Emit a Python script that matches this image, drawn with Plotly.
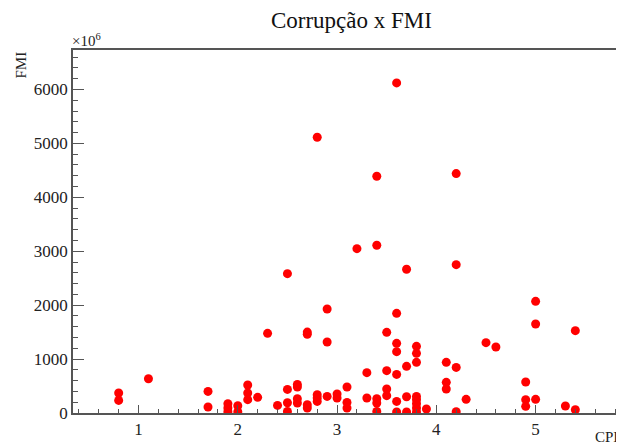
import plotly.graph_objects as go

# CPI (corruption perception index) values
cpi = [0.8, 0.8, 1.1, 1.7, 1.7, 1.9, 1.9, 1.9, 2.0, 2.0,
       2.1, 2.1, 2.1, 2.2, 2.3, 2.4, 2.5, 2.5, 2.5, 2.5,
       2.6, 2.6, 2.6, 2.6, 2.7, 2.7, 2.7, 2.7, 2.8, 2.8,
       2.8, 2.8, 2.9, 2.9, 2.9, 3.0, 3.0, 3.1, 3.1, 3.1,
       3.2, 3.3, 3.3, 3.4, 3.4, 3.4, 3.4, 3.4, 3.5, 3.5,
       3.5, 3.5, 3.6, 3.6, 3.6, 3.6, 3.6, 3.6, 3.6, 3.7,
       3.7, 3.7, 3.7, 3.8, 3.8, 3.8, 3.8, 3.8, 3.8, 3.8,
       3.8, 3.9, 4.1, 4.1, 4.1, 4.2, 4.2, 4.2, 4.2, 4.3,
       4.5, 4.6, 4.9, 4.9, 4.9, 5.0, 5.0, 5.0, 5.3, 5.4,
       5.4]
# FMI values (x 10^6)
fmi = [371, 234, 636, 401, 111, 172, 95, 25, 135, 25,
       519, 371, 247, 290, 1477, 141, 2584, 438, 191, 30,
       530, 482, 265, 185, 1500, 1460, 154, 93, 5113, 340,
       278, 215, 1929, 1317, 308, 352, 278, 482, 197, 93,
       3048, 748, 278, 4390, 3110, 265, 185, 30, 1496, 785,
       445, 321, 6122, 1848, 1292, 1137, 716, 215, 20, 2665,
       865, 302, 20, 1236, 1106, 939, 308, 247, 172, 93,
       19, 74, 939, 568, 445, 4440, 2751, 846, 24, 253,
       1304, 1224, 575, 247, 123, 2071, 1651, 253, 130, 1527,
       61]

title_text = "Corrupção x FMI"
x_title = "CPI"
y_title = "FMI"
exponent_label = "×10<sup>6</sup>"

FONT = "Liberation Serif, Times New Roman, Times, serif"
AX = "#555555"
TXT = "#222222"

fig = go.Figure()
fig.add_trace(go.Scatter(
    x=cpi, y=fmi, mode="markers",
    marker=dict(color="#ff0000", size=9, line=dict(width=0)),
    showlegend=False,
))

fig.update_layout(
    width=616, height=437,
    margin=dict(l=65, r=1, t=42, b=32),
    paper_bgcolor="white", plot_bgcolor="white",
    font=dict(family=FONT, color=TXT, size=16),
    title=dict(text=title_text, x=0.5575, xanchor="center",
               y=0.99, yanchor="top",
               font=dict(family=FONT, size=23, color="#111111")),
)

fig.update_xaxes(
    range=[0.34, 5.86], showgrid=False, zeroline=False,
    showline=True, linecolor=AX, linewidth=1.5, mirror=True,
    ticks="inside", ticklen=8, tickwidth=1.2, tickcolor=AX,
    tick0=0, dtick=1, tickfont=dict(family=FONT, size=17, color=TXT),
    minor=dict(ticks="inside", ticklen=4, tickwidth=1.2, tickcolor=AX, dtick=0.2, tick0=0, showgrid=False),
)
fig.update_yaxes(
    range=[0, 6732], showgrid=False, zeroline=False,
    showline=True, linecolor=AX, linewidth=1.5, mirror=True,
    ticks="inside", ticklen=11, tickwidth=1.2, tickcolor=AX,
    tick0=0, dtick=1000, tickfont=dict(family=FONT, size=17, color=TXT),
    minor=dict(ticks="inside", ticklen=5.5, tickwidth=1.2, tickcolor=AX, dtick=200, tick0=0, showgrid=False),
)

fig.add_annotation(text=exponent_label, xref="paper", yref="paper",
                   x=0, y=1, xanchor="left", yanchor="bottom", showarrow=False,
                   font=dict(family=FONT, size=15, color=TXT), yshift=-1, xshift=-3)
fig.add_annotation(text=y_title, xref="paper", yref="paper", textangle=-90,
                   x=0, y=1, xanchor="center", yanchor="top", xshift=-53, showarrow=False,
                   font=dict(family=FONT, size=15, color=TXT))
fig.add_annotation(text=x_title, xref="paper", yref="paper",
                   x=1, y=0, xanchor="right", yanchor="top", yshift=-14, xshift=-1, showarrow=False,
                   font=dict(family=FONT, size=15, color=TXT))

fig.write_html("out.html")
